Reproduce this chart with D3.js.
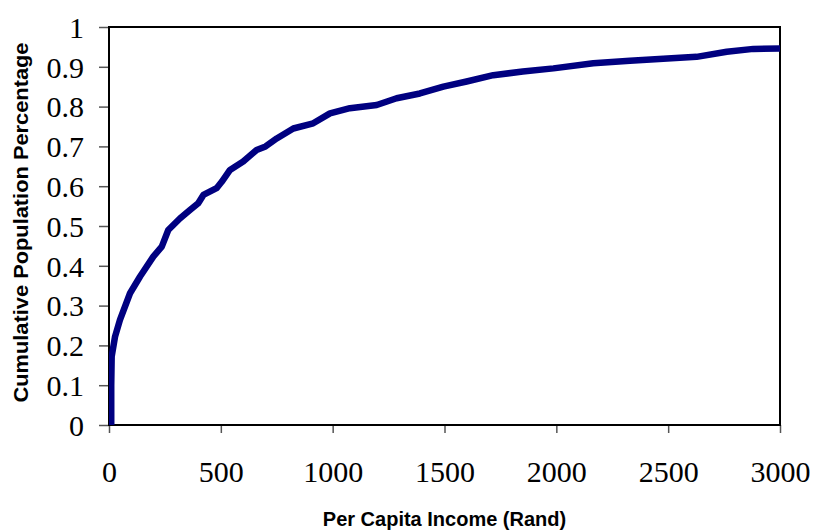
<!DOCTYPE html>
<html>
<head>
<meta charset="utf-8">
<script src="https://cdn.jsdelivr.net/npm/d3@7"></script>
<style>
  html, body { margin: 0; padding: 0; background: #fff; }
  svg { display: block; }
</style>
</head>
<body>
<svg id="chart" width="814" height="531"></svg>
<script>
// Cumulative distribution of per capita income
const income = [10, 10, 12, 27, 49, 94, 139, 198, 236, 265, 317, 362, 399, 422, 481, 504,
  541, 600, 660, 700, 750, 824, 913, 988, 1077, 1197, 1286, 1390, 1495, 1599, 1718, 1850,
  1987, 2165, 2329, 2478, 2627, 2762, 2881, 3000];
const cumShare = [0, 0.10, 0.172, 0.222, 0.264, 0.331, 0.373, 0.423, 0.448, 0.49, 0.519, 0.540,
  0.557, 0.578, 0.595, 0.611, 0.641, 0.662, 0.691, 0.70, 0.720, 0.745, 0.758, 0.783, 0.796,
  0.804, 0.821, 0.833, 0.850, 0.863, 0.879, 0.888, 0.896, 0.909, 0.915, 0.920, 0.925, 0.938,
  0.945, 0.946];
const xTicks = [0, 500, 1000, 1500, 2000, 2500, 3000];
const yTicks = [0, 0.1, 0.2, 0.3, 0.4, 0.5, 0.6, 0.7, 0.8, 0.9, 1];
const xTitle = "Per Capita Income (Rand)";
const yTitle = "Cumulative Population Percentage";

const svg = d3.select("#chart");
const plot = { left: 109, right: 780, top: 27, bottom: 425 };

const x = d3.scaleLinear().domain([0, 3000]).range([plot.left, plot.right]);
const y = d3.scaleLinear().domain([0, 1]).range([plot.bottom, plot.top]);

const points = income.map((v, i) => [v, cumShare[i]]);

svg.append("defs").append("clipPath").attr("id", "plotClip")
  .append("rect")
  .attr("x", plot.left).attr("y", plot.top - 10)
  .attr("width", plot.right - plot.left).attr("height", plot.bottom - plot.top + 10);

// Axes
const xAxis = svg.append("g")
  .attr("transform", `translate(0,${plot.bottom})`)
  .call(d3.axisBottom(x).tickValues(xTicks).tickSize(8).tickSizeOuter(0).tickPadding(18).tickFormat(d3.format("d")));
const yAxis = svg.append("g")
  .attr("transform", `translate(${plot.left},0)`)
  .call(d3.axisLeft(y).tickValues(yTicks).tickSize(10).tickSizeOuter(0).tickPadding(15).tickFormat(d => d === 0 || d === 1 ? String(d) : d3.format(".1f")(d)));

[xAxis, yAxis].forEach(g => {
  g.select(".domain").remove();
  g.selectAll(".tick line").attr("stroke", "#555").attr("stroke-width", 1.5);
  g.selectAll(".tick text")
    .attr("fill", "#000")
    .style("font-family", "'Liberation Serif', 'Times New Roman', serif")
    .style("font-size", "30px");
});
xAxis.selectAll(".tick text").attr("dy", null).attr("y", 57);
yAxis.selectAll(".tick text").attr("dy", "0.34em");

// Plot frame
svg.append("rect")
  .attr("x", plot.left).attr("y", plot.top)
  .attr("width", plot.right - plot.left).attr("height", plot.bottom - plot.top)
  .attr("fill", "none").attr("stroke", "#000").attr("stroke-width", 2);

// Curve
const line = d3.line().x(d => x(d[0])).y(d => y(d[1])).curve(d3.curveLinear);
svg.append("path")
  .datum(points)
  .attr("clip-path", "url(#plotClip)")
  .attr("d", line)
  .attr("fill", "none")
  .attr("stroke", "#000080")
  .attr("stroke-width", 6.5)
  .attr("stroke-linejoin", "round")
  .attr("stroke-linecap", "round");

// Axis titles
svg.append("text")
  .attr("x", (plot.left + plot.right) / 2).attr("y", 526)
  .attr("text-anchor", "middle")
  .style("font-family", "'Liberation Sans', Arial, sans-serif")
  .style("font-weight", "bold").style("font-size", "20px")
  .text(xTitle);

svg.append("text")
  .attr("transform", "translate(27.5,222.5) rotate(-90)")
  .attr("text-anchor", "middle")
  .attr("textLength", 360).attr("lengthAdjust", "spacingAndGlyphs")
  .style("font-family", "'Liberation Sans', Arial, sans-serif")
  .style("font-weight", "bold").style("font-size", "20px")
  .text(yTitle);
</script>
</body>
</html>
